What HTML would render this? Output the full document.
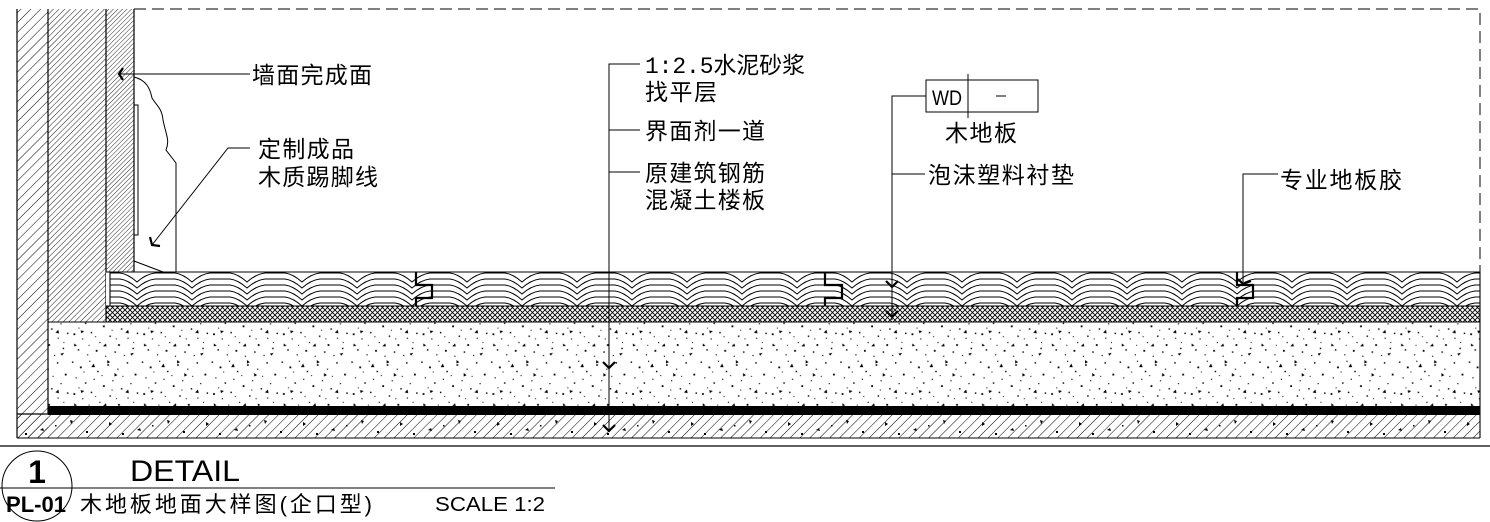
<!DOCTYPE html>
<html><head><meta charset="utf-8"><style>
html,body{margin:0;padding:0;background:#fff;}
svg{display:block}
text{font-family:"Liberation Sans","Noto Sans CJK SC",sans-serif;fill:#000}
</style></head><body>
<svg width="1490" height="522" viewBox="0 0 1490 522" xmlns="http://www.w3.org/2000/svg">
<defs>
<pattern id="h6" width="7" height="7" patternUnits="userSpaceOnUse" patternTransform="rotate(45)">
<line x1="0" y1="0" x2="0" y2="7" stroke="#000" stroke-width="1"/></pattern>
<pattern id="h4" width="4" height="4" patternUnits="userSpaceOnUse" patternTransform="rotate(45)">
<line x1="0" y1="0" x2="0" y2="4" stroke="#000" stroke-width="0.9"/></pattern>
<pattern id="h3" width="3.2" height="3.2" patternUnits="userSpaceOnUse" patternTransform="rotate(45)">
<line x1="0" y1="0" x2="0" y2="3.2" stroke="#000" stroke-width="0.8"/></pattern>
<pattern id="xx" width="5" height="5" patternUnits="userSpaceOnUse">
<path d="M0 0L5 5M5 0L0 5" stroke="#000" stroke-width="0.9" fill="none"/></pattern>
<pattern id="wv" x="0" y="272" width="55" height="34" patternUnits="userSpaceOnUse">
<g fill="none" stroke="#000" stroke-width="1">
<path d="M0 1 L10 1 Q18 2 27 10 Q36 2 45 1 L55 1"/>
<path d="M0 7 L10 7 Q18 8 27 16 Q36 8 45 7 L55 7"/>
<path d="M0 13 L10 13 Q18 14 27 22 Q36 14 45 13 L55 13"/>
<path d="M0 19 L10 19 Q18 20 27 28 Q36 20 45 19 L55 19"/>
<path d="M0 25 L10 25 Q18 26 27 34 Q36 26 45 25 L55 25"/>
<path d="M0 31 L10 31 Q18 32 27 40 Q36 32 45 31 L55 31"/>
</g></pattern>
<pattern id="cc" width="97" height="83" patternUnits="userSpaceOnUse" patternTransform="scale(0.72)">
<g fill="#000">
<rect x="3" y="4" width="2" height="2"/><rect x="14" y="11" width="2.5" height="2.5"/><rect x="27" y="3" width="1.6" height="1.6"/>
<rect x="38" y="17" width="2" height="2"/><rect x="52" y="8" width="2.5" height="2"/><rect x="66" y="14" width="1.6" height="1.6"/>
<rect x="79" y="5" width="2" height="2"/><rect x="90" y="21" width="2.5" height="2.5"/><rect x="8" y="26" width="1.6" height="1.6"/>
<rect x="21" y="33" width="2" height="2"/><rect x="33" y="28" width="1.6" height="1.6"/><rect x="46" y="37" width="2.5" height="2.5"/>
<rect x="59" y="30" width="1.6" height="1.6"/><rect x="71" y="41" width="2" height="2"/><rect x="84" y="34" width="1.6" height="1.6"/>
<rect x="5" y="48" width="2.5" height="2.5"/><rect x="17" y="55" width="1.6" height="1.6"/><rect x="29" y="46" width="2" height="2"/>
<rect x="41" y="60" width="1.6" height="1.6"/><rect x="55" y="51" width="2" height="2"/><rect x="67" y="63" width="2.5" height="2.5"/>
<rect x="80" y="54" width="1.6" height="1.6"/><rect x="93" y="47" width="2" height="2"/><rect x="11" y="70" width="2" height="2"/>
<rect x="24" y="77" width="1.6" height="1.6"/><rect x="36" y="71" width="2.5" height="2.5"/><rect x="49" y="79" width="1.6" height="1.6"/>
<rect x="62" y="73" width="2" height="2"/><rect x="75" y="78" width="1.6" height="1.6"/><rect x="87" y="68" width="2" height="2"/>
<rect x="44" y="23" width="1.4" height="1.4"/><rect x="12" y="40" width="1.4" height="1.4"/><rect x="73" y="24" width="1.4" height="1.4"/>
<rect x="58" y="43" width="1.4" height="1.4"/><rect x="26" y="64" width="1.4" height="1.4"/><rect x="88" y="60" width="1.4" height="1.4"/>
<rect x="19" y="18" width="1.4" height="1.4"/><rect x="64" y="55" width="1.4" height="1.4"/><rect x="35" y="52" width="1.4" height="1.4"/>
<path d="M30 12l5 0l-2 -5z"/><path d="M62 20l4 3l-4 2z"/><path d="M15 44l5 1l-4 3z"/><path d="M77 47l4 -4l1 5z"/>
<path d="M46 66l5 0l-1 -4z"/><path d="M6 62l4 3l-4 1z"/><path d="M84 76l5 -1l-3 4z"/><path d="M52 2l4 3l-4 2z"/>
</g></pattern>
<pattern id="bh" width="97" height="24" x="0" y="414" patternUnits="userSpaceOnUse">
<g fill="#000"><path d="M12 8l3 2l-3 2z"/><path d="M40 16l3 -2l1 3z"/><path d="M70 6l3 1l-2 3z"/><rect x="25" y="19" width="2" height="2"/><rect x="55" y="11" width="1.5" height="1.5"/><rect x="86" y="17" width="2" height="2"/></g></pattern>
</defs>

<rect x="17" y="9" width="31" height="429" fill="url(#h6)"/>
<rect x="48" y="9" width="58" height="313" fill="url(#h4)"/>
<rect x="106" y="9" width="28" height="263" fill="url(#h3)"/>
<g stroke="#000" stroke-width="1.2" fill="none">
<line x1="17" y1="9" x2="17" y2="438"/>
<line x1="48" y1="9" x2="48" y2="414"/>
<line x1="106" y1="9" x2="106" y2="322"/>
<line x1="134" y1="9" x2="134" y2="272"/>
<line x1="17" y1="414" x2="48" y2="414"/>
</g>
<path d="M134 9H1480V272" fill="none" stroke="#000" stroke-width="1" stroke-dasharray="12,6"/>

<g stroke="#000" stroke-width="1" fill="none">
<path d="M134 77 C146 80 150 88 152 98 C156 105 162 108 163 120 C166 135 170 140 166 150 L176 163 L176 272"/>
<path d="M134 105 H138 V235 H134"/>
<path d="M134 261 L163 272"/>
</g>

<rect x="106" y="272" width="1374" height="34" fill="url(#wv)"/>
<rect x="106" y="272" width="4" height="34" fill="#fff"/>
<rect x="106" y="306" width="1374" height="16" fill="url(#xx)"/>
<rect x="48" y="322" width="1432" height="85" fill="url(#cc)"/>
<rect x="48" y="406" width="1432" height="9" fill="#000"/>
<rect x="17" y="414" width="1463" height="24" fill="url(#h6)"/>
<rect x="17" y="414" width="1463" height="24" fill="url(#bh)"/>
<g stroke="#000" stroke-width="1.1" fill="none">
<line x1="106" y1="272" x2="1480" y2="272"/>
<line x1="110" y1="272" x2="110" y2="306"/>
<line x1="106" y1="306" x2="1480" y2="306"/>
<line x1="48" y1="322" x2="1480" y2="322"/>
<line x1="17" y1="438" x2="1480" y2="438"/>
<line x1="1480" y1="272" x2="1480" y2="438"/>
</g>
<g stroke="#000" stroke-width="2.2" fill="none">
<path d="M416 272V285H432V298H416V306"/>
<path d="M825 272V285H842V298H825V306"/>
<path d="M1237 272V285H1253V298H1237V306"/>
</g>

<line x1="0" y1="446" x2="1490" y2="446" stroke="#000" stroke-width="1.2"/>
<line x1="0" y1="488" x2="555" y2="488" stroke="#000" stroke-width="1"/>
<circle cx="37" cy="486" r="35" fill="none" stroke="#000" stroke-width="1"/>

<g stroke="#000" stroke-width="1" fill="none">
<line x1="118" y1="74" x2="250" y2="74"/>
<path d="M250 148H228L152 245"/>
<path d="M640 64H609V432"/>
<line x1="609" y1="130" x2="640" y2="130"/>
<line x1="609" y1="172" x2="640" y2="172"/>
<path d="M926 96H892V320"/>
<line x1="892" y1="174" x2="925" y2="174"/>
<path d="M1278 174H1243V284"/>
<rect x="926" y="80" width="112" height="32"/>
<line x1="968" y1="74" x2="968" y2="118"/>
</g>
<g stroke="#000" stroke-width="2.2" fill="none">
<path d="M123 68L119 74L123 80"/>
<path d="M150 237L152 245L160 246"/>
<path d="M603 362L609 368L615 362"/>
<path d="M603 425L609 431L615 425"/>
<path d="M886 281L892 287L898 281"/>
<path d="M886 311L892 317L898 311"/>
<path d="M1238 279L1243 284L1251 281"/>
</g>

<g font-size="23">
<text x="252" y="83" textLength="120" lengthAdjust="spacing">墙面完成面</text>
<text x="258" y="157" textLength="96" lengthAdjust="spacing">定制成品</text>
<text x="258" y="185" textLength="120" lengthAdjust="spacing">木质踢脚线</text>
<text x="645" y="73" textLength="160" lengthAdjust="spacing" style='font-family:"Liberation Mono","Noto Sans CJK SC",monospace'>1:2.5水泥砂浆</text>
<text x="645" y="100" textLength="72" lengthAdjust="spacing">找平层</text>
<text x="645" y="139" textLength="120" lengthAdjust="spacing">界面剂一道</text>
<text x="645" y="181" textLength="120" lengthAdjust="spacing">原建筑钢筋</text>
<text x="645" y="208" textLength="120" lengthAdjust="spacing">混凝土楼板</text>
<text x="945" y="141" textLength="72" lengthAdjust="spacing">木地板</text>
<text x="928" y="183" textLength="146" lengthAdjust="spacing">泡沫塑料衬垫</text>
<text x="1280" y="188" textLength="122" lengthAdjust="spacing">专业地板胶</text>
</g>
<text x="932" y="105" font-size="21" textLength="30" lengthAdjust="spacingAndGlyphs">WD</text>
<line x1="996" y1="96" x2="1006" y2="96" stroke="#000" stroke-width="1"/>

<text x="37" y="483" font-size="32" font-weight="bold" text-anchor="middle">1</text>
<text x="130" y="481" font-size="30" textLength="110" lengthAdjust="spacingAndGlyphs">DETAIL</text>
<text x="6" y="512" font-size="22" font-weight="bold" textLength="60" lengthAdjust="spacingAndGlyphs">PL-01</text>
<text x="80" y="512" font-size="22" textLength="292" lengthAdjust="spacing">木地板地面大样图(企口型)</text>
<text x="435" y="511" font-size="20" textLength="110" lengthAdjust="spacingAndGlyphs">SCALE 1:2</text>
</svg>
</body></html>
